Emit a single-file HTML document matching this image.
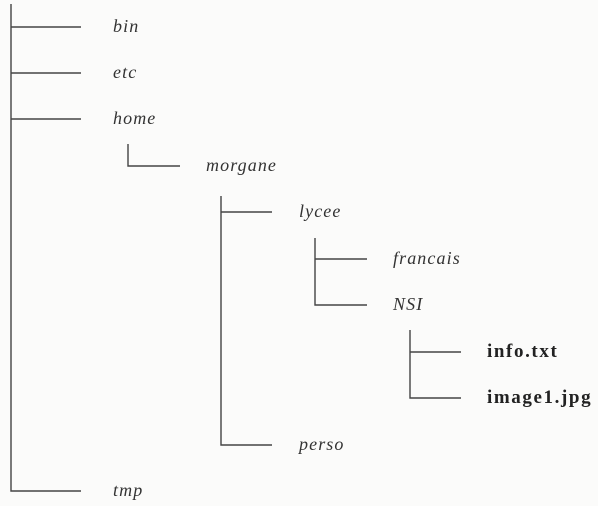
<!DOCTYPE html>
<html><head><meta charset="utf-8"><style>
html,body{margin:0;padding:0;background:#fbfbfa;}
svg{display:block}
text{font-family:"Liberation Serif",serif;font-size:18px;fill:#333;}
.i{font-style:italic;letter-spacing:1.1px}
.b{font-weight:bold;fill:#222;font-size:19px;letter-spacing:1.6px}
</style></head><body>
<svg width="598" height="506" viewBox="0 0 598 506">
<g stroke="#444" stroke-width="1.4" fill="none">
<path d="M11 4V491H81M11 27H81M11 73H81M11 119H81"/>
<path d="M128 144V166H180"/>
<path d="M221 196V445H272M221 212H272"/>
<path d="M315 238V305H367M315 259H367"/>
<path d="M410 330V398H461M410 352H461"/>
</g>
<text class="i" x="113" y="32">bin</text>
<text class="i" x="113" y="78">etc</text>
<text class="i" x="113" y="124">home</text>
<text class="i" x="206" y="171">morgane</text>
<text class="i" x="299" y="217">lycee</text>
<text class="i" x="393" y="264">francais</text>
<text class="i" x="393" y="310">NSI</text>
<text class="b" x="487" y="357">info.txt</text>
<text class="b" x="487" y="403">image1.jpg</text>
<text class="i" x="299" y="450">perso</text>
<text class="i" x="113" y="496">tmp</text>
</svg>
</body></html>
